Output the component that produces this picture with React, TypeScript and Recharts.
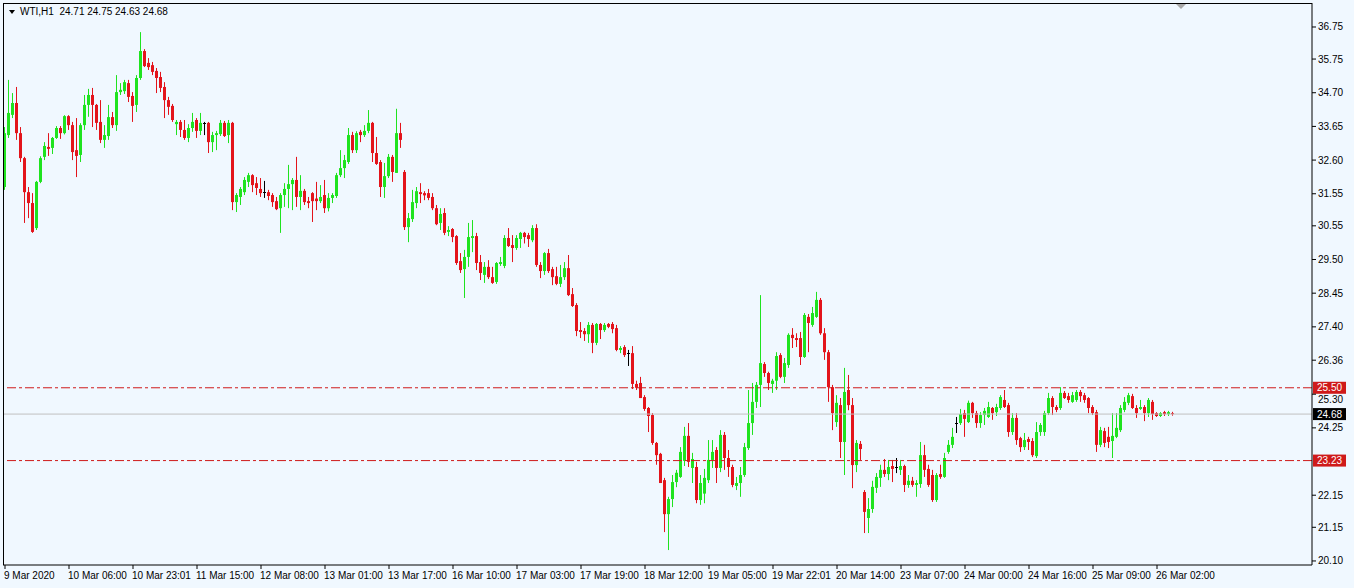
import { ComposedChart, Bar, XAxis, YAxis, ReferenceLine } from "recharts";

// WTI H1 candles, 9 Mar 2020 -> 26 Mar 2020
const opens = [
  31.76, 33.38, 34.01, 34.38, 33.44, 32.66, 31.6, 31.26, 30.48, 31.92, 32.7, 33.01, 32.98, 33.29, 33.6, 33.44,
  33.97, 33.69, 32.91, 32.76, 33.69, 34.32, 34.63, 34.32, 33.79, 33.23, 33.35, 33.94, 33.69, 34.72, 34.75, 35.0,
  34.6, 34.32, 35.16, 36.0, 35.63, 35.56, 35.38, 35.19, 34.88, 34.47, 34.29, 33.72, 33.79, 33.54, 33.29, 33.6,
  33.85, 33.51, 33.76, 33.76, 33.16, 33.38, 33.41, 33.76, 33.38, 33.76, 31.29, 31.45, 31.6, 31.92, 32.13, 31.88,
  31.7, 31.6, 31.6, 31.51, 31.32, 31.1, 31.51, 31.7, 31.85, 31.98, 31.45, 31.64, 31.32, 31.57, 31.4, 31.32,
  31.51, 31.1, 31.42, 31.48, 32.13, 32.35, 32.54, 33.38, 32.91, 33.48, 33.38, 33.51, 33.76, 32.82, 32.54, 31.76,
  32.1, 32.7, 32.2, 33.44, 32.23, 30.51, 30.76, 31.26, 31.6, 31.57, 31.57, 31.45, 31.1, 30.64, 30.95, 30.36,
  30.45, 30.23, 29.45, 29.2, 29.58, 30.17, 30.23, 29.42, 29.02, 29.27, 28.95, 28.8, 29.36, 29.3, 30.17, 29.95,
  29.86, 30.14, 30.33, 30.26, 30.1, 30.48, 29.33, 29.14, 29.7, 29.2, 28.98, 28.74, 28.95, 29.23, 28.42, 28.08,
  27.3, 27.27, 27.17, 27.46, 26.9, 27.49, 27.3, 27.49, 27.49, 27.36, 26.68, 26.77, 26.58, 26.58, 25.62, 25.65,
  25.21, 24.87, 24.65, 23.78, 23.44, 22.62, 21.56, 22.03, 22.56, 22.72, 23.22, 24.0, 23.0, 23.03, 22.0, 22.2,
  22.62, 23.25, 23.56, 23.0, 24.03, 23.31, 23.03, 22.44, 22.53, 22.78, 23.62, 24.4, 25.06, 25.59, 26.24, 25.96,
  25.62, 25.72, 26.52, 25.84, 26.21, 27.15, 27.05, 27.05, 26.46, 27.71, 27.46, 27.71, 28.24, 27.2, 26.61, 25.52,
  24.43, 24.96, 23.81, 25.43, 24.96, 23.09, 23.75, 22.25, 21.44, 21.72, 22.38, 22.69, 22.94, 22.81, 23.06, 23.03,
  22.94, 23.06, 22.47, 22.6, 22.47, 22.5, 23.4, 22.97, 22.78, 22.0, 22.81, 22.72, 23.5, 23.72, 24.4, 24.4,
  24.71, 24.43, 25.03, 24.71, 24.4, 24.65, 24.59, 24.87, 24.74, 24.87, 25.12, 24.96, 24.12, 24.56, 23.93, 23.65,
  23.9, 23.84, 23.37, 24.12, 24.12, 24.71, 25.18, 24.9, 24.87, 25.34, 25.24, 25.06, 25.12, 25.37, 25.27, 25.18,
  24.9, 24.74, 23.72, 24.15, 23.97, 23.84, 23.97, 24.18, 24.81, 25.03, 25.24, 24.87, 24.84, 24.9, 24.71, 25.06,
  24.71, 24.62, 24.74, 24.68, 24.71,
];
const highs = [
  33.63, 35.1, 34.69, 34.88, 33.63, 32.7, 31.76, 31.57, 31.95, 32.72, 33.16, 33.44, 33.32, 33.66, 33.66, 34.0,
  34.0, 33.79, 33.91, 33.75, 34.63, 34.82, 34.85, 34.35, 34.47, 33.69, 34.32, 34.1, 35.25, 35.0, 35.1, 35.1,
  34.72, 35.25, 36.59, 36.06, 35.78, 35.66, 35.47, 35.35, 35.03, 34.57, 34.35, 33.85, 33.85, 33.85, 33.72, 34.07,
  33.91, 34.07, 33.79, 33.79, 33.48, 33.51, 33.85, 33.82, 33.85, 33.79, 31.57, 31.76, 32.07, 32.2, 32.16, 32.07,
  32.04, 31.95, 31.67, 31.57, 31.45, 31.57, 31.88, 32.45, 32.04, 32.7, 32.13, 31.7, 31.45, 31.6, 31.92, 31.82,
  31.98, 31.57, 31.57, 32.2, 32.91, 32.76, 33.6, 33.48, 33.5, 33.54, 33.69, 34.16, 33.79, 33.32, 32.6, 32.51,
  32.79, 32.76, 34.2, 33.76, 32.29, 30.95, 31.67, 31.76, 31.88, 31.63, 31.7, 31.57, 31.2, 31.1, 31.1, 30.54,
  30.48, 30.26, 29.7, 29.8, 30.64, 30.73, 30.33, 29.64, 29.42, 29.48, 29.27, 29.42, 29.58, 30.26, 30.48, 30.26,
  30.26, 30.36, 30.36, 30.33, 30.57, 30.6, 29.42, 29.73, 29.83, 29.27, 29.27, 29.33, 29.42, 29.64, 28.61, 28.14,
  27.55, 27.36, 27.55, 27.52, 27.52, 27.52, 27.52, 27.52, 27.55, 27.46, 26.8, 26.83, 26.68, 26.8, 25.72, 25.84,
  25.27, 24.9, 24.71, 23.81, 23.47, 22.69, 22.1, 22.78, 22.94, 23.65, 24.28, 24.4, 23.47, 23.19, 22.78, 22.97,
  23.87, 23.87, 23.65, 24.18, 24.12, 23.56, 23.1, 22.72, 23.03, 23.78, 25.43, 25.65, 25.68, 28.39, 26.3, 26.0,
  25.78, 26.61, 26.58, 26.43, 27.2, 27.36, 27.2, 27.24, 27.83, 27.8, 28.02, 28.49, 28.3, 27.36, 26.68, 25.59,
  25.27, 25.18, 26.12, 25.9, 25.18, 23.87, 23.84, 22.31, 22.06, 22.6, 22.84, 23.1, 23.28, 23.25, 23.25, 23.31,
  23.25, 23.1, 22.78, 22.72, 22.62, 23.81, 23.72, 23.1, 22.94, 22.84, 23.1, 23.47, 23.87, 24.25, 24.59, 24.84,
  24.81, 25.1, 25.06, 24.78, 24.74, 24.87, 25.06, 24.9, 25.0, 25.27, 25.43, 25.03, 24.71, 24.71, 23.97, 24.09,
  23.97, 23.93, 24.43, 24.4, 24.78, 25.34, 25.24, 24.96, 25.52, 25.4, 25.34, 25.37, 25.43, 25.43, 25.34, 25.21,
  24.96, 24.81, 24.28, 24.25, 24.28, 24.71, 24.71, 24.96, 25.21, 25.34, 25.31, 24.96, 25.12, 24.96, 25.18, 25.12,
  24.74, 24.74, 24.78, 24.78, 24.75,
];
const lows = [
  31.67, 33.29, 33.91, 33.23, 32.54, 30.64, 30.79, 30.33, 30.42, 31.88, 32.6, 32.73, 32.79, 33.26, 33.26, 33.4,
  33.54, 32.6, 32.07, 32.54, 33.54, 33.95, 33.63, 33.54, 33.13, 32.98, 33.23, 33.6, 33.51, 34.63, 34.66, 34.41,
  33.79, 34.1, 35.1, 35.5, 35.41, 35.25, 34.69, 34.72, 33.91, 34.01, 33.79, 33.38, 33.32, 33.23, 33.16, 33.48,
  33.29, 33.38, 33.38, 32.82, 32.85, 32.91, 33.35, 33.32, 33.13, 31.04, 30.98, 31.2, 31.51, 31.76, 31.6, 31.51,
  31.45, 31.42, 31.35, 31.14, 31.04, 30.33, 31.14, 31.1, 31.04, 31.14, 31.04, 31.2, 31.1, 30.67, 31.04, 31.26,
  30.95, 31.0, 31.26, 31.42, 32.07, 32.04, 32.48, 32.82, 32.82, 33.16, 33.32, 33.44, 32.54, 32.45, 31.45, 31.42,
  32.04, 31.92, 32.2, 32.98, 30.42, 30.04, 30.67, 31.1, 31.26, 31.35, 31.35, 31.04, 30.57, 30.42, 30.26, 30.23,
  30.04, 29.33, 29.08, 28.3, 29.27, 29.73, 29.17, 28.86, 28.77, 28.89, 28.74, 28.74, 29.3, 29.23, 29.89, 29.42,
  29.8, 29.86, 30.0, 29.89, 30.04, 29.27, 28.92, 29.02, 29.08, 28.7, 28.7, 28.64, 28.86, 28.36, 28.02, 27.11,
  27.05, 26.96, 26.9, 26.58, 26.83, 27.02, 27.24, 27.36, 27.2, 26.64, 26.58, 26.46, 26.18, 25.46, 25.43, 25.18,
  24.78, 24.12, 23.72, 23.1, 22.53, 21.0, 20.44, 21.78, 22.4, 22.69, 23.06, 23.03, 22.53, 21.9, 21.85, 21.9,
  22.53, 23.0, 22.53, 22.87, 22.94, 22.72, 22.4, 22.31, 22.1, 22.72, 23.56, 24.03, 24.87, 24.9, 25.84, 25.43,
  25.34, 25.43, 25.8, 25.65, 26.12, 26.74, 26.77, 26.21, 26.43, 26.61, 27.4, 27.68, 27.15, 26.37, 25.06, 24.18,
  24.28, 23.31, 22.78, 24.8, 22.37, 22.87, 23.25, 20.97, 20.97, 21.6, 22.22, 22.41, 22.72, 22.62, 22.56, 22.84,
  22.78, 22.25, 22.38, 22.41, 22.1, 22.38, 22.72, 22.41, 21.94, 21.94, 22.66, 22.69, 23.44, 23.62, 24.09, 24.34,
  23.97, 24.4, 24.56, 24.25, 24.25, 24.34, 24.56, 24.5, 24.62, 24.81, 24.87, 23.97, 24.03, 23.72, 23.5, 23.56,
  23.56, 23.34, 23.31, 24.0, 24.0, 24.65, 24.65, 24.74, 24.81, 25.15, 25.03, 25.03, 25.06, 25.06, 25.03, 24.71,
  24.65, 23.5, 23.65, 23.65, 23.62, 23.31, 23.93, 24.12, 24.74, 24.96, 24.84, 24.56, 24.81, 24.46, 24.59, 24.5,
  24.59, 24.59, 24.62, 24.62, 24.63,
];
const closes = [
  33.44, 34.07, 34.38, 33.44, 32.66, 31.6, 31.26, 30.36, 31.92, 32.66, 33.04, 32.95, 33.29, 33.6, 33.44, 33.97,
  33.69, 32.85, 32.73, 33.69, 34.32, 34.63, 34.32, 33.76, 33.23, 33.38, 33.94, 33.69, 34.72, 34.79, 35.03, 34.57,
  34.29, 35.16, 36.0, 35.53, 35.5, 35.35, 35.16, 34.85, 34.47, 34.26, 33.85, 33.79, 33.54, 33.29, 33.6, 33.79,
  33.51, 33.76, 33.76, 33.16, 33.38, 33.44, 33.76, 33.35, 33.76, 31.29, 31.51, 31.7, 31.98, 32.13, 31.82, 31.73,
  31.57, 31.6, 31.48, 31.29, 31.07, 31.51, 31.7, 31.85, 31.98, 31.45, 31.64, 31.29, 31.26, 31.32, 31.32, 31.45,
  31.1, 31.42, 31.51, 32.13, 32.35, 32.6, 33.38, 32.91, 33.44, 33.38, 33.51, 33.76, 32.82, 32.48, 31.76, 32.1,
  32.7, 32.23, 33.44, 33.23, 30.51, 30.79, 31.29, 31.63, 31.54, 31.5, 31.42, 31.1, 30.6, 30.92, 30.33, 30.42,
  30.2, 29.39, 29.17, 29.58, 30.2, 30.23, 29.39, 29.08, 29.27, 28.95, 28.77, 29.39, 29.42, 30.17, 29.92, 29.86,
  30.17, 30.33, 30.2, 30.14, 30.48, 29.33, 29.14, 29.7, 29.14, 28.95, 28.74, 28.95, 29.23, 28.39, 28.05, 27.27,
  27.24, 27.17, 27.46, 26.9, 27.49, 27.3, 27.46, 27.4, 27.33, 26.68, 26.74, 26.52, 26.58, 25.62, 25.5, 25.18,
  24.84, 24.62, 23.78, 23.4, 22.53, 21.56, 22.03, 22.56, 22.85, 23.5, 24.0, 23.19, 23.28, 22.0, 22.53, 22.69,
  23.25, 23.5, 23.0, 24.03, 23.31, 23.03, 22.47, 22.53, 22.78, 23.65, 24.4, 25.06, 25.59, 26.27, 25.96, 25.65,
  25.72, 26.49, 25.84, 26.27, 27.15, 27.05, 26.99, 26.46, 27.77, 27.52, 27.83, 28.24, 27.2, 26.61, 25.52, 24.71,
  25.03, 23.81, 25.37, 24.96, 23.09, 23.78, 23.59, 21.63, 21.72, 22.41, 22.72, 22.94, 22.81, 23.03, 22.97, 23.03,
  23.06, 22.47, 22.6, 22.47, 22.53, 23.4, 22.94, 22.47, 22.0, 22.78, 22.72, 23.31, 23.72, 23.97, 24.4, 24.68,
  24.53, 25.03, 24.71, 24.4, 24.65, 24.78, 24.9, 24.71, 24.9, 25.21, 24.9, 24.12, 24.56, 23.87, 23.65, 23.87,
  23.81, 23.4, 24.12, 24.34, 24.71, 25.18, 24.9, 24.81, 25.34, 25.18, 25.12, 25.27, 25.37, 25.24, 25.12, 24.87,
  24.71, 23.72, 24.18, 23.78, 23.81, 24.0, 24.25, 24.87, 25.06, 25.27, 24.87, 24.71, 24.9, 24.71, 25.12, 24.68,
  24.62, 24.71, 24.68, 24.74, 24.68,
];

// one date label every 16 bars
const timeLabels = [
  "9 Mar 2020", "10 Mar 06:00", "10 Mar 23:01", "11 Mar 15:00", "12 Mar 08:00", "13 Mar 01:00", "13 Mar 17:00",
  "16 Mar 10:00", "17 Mar 03:00", "17 Mar 19:00", "18 Mar 12:00", "19 Mar 05:00", "19 Mar 22:01", "20 Mar 14:00",
  "23 Mar 07:00", "24 Mar 00:00", "24 Mar 16:00", "25 Mar 09:00", "26 Mar 02:00",
];
const priceTicks = [36.75, 35.75, 34.7, 33.65, 32.6, 31.55, 30.55, 29.5, 28.45, 27.4, 26.36, 25.3, 24.25, 22.15, 21.15, 20.1];
const levels = [25.5, 23.23];
const lastPrice = 24.68;

const FONT = "'Liberation Sans', Arial, sans-serif";
const UP = "#1fe31f";
const DOWN = "#e3141b";
const LEVEL = "#cf1a1a";

const data = closes.map((c, i) => ({ i, o: opens[i], h: highs[i], l: lows[i], c, range: [lows[i], highs[i]] }));
const tickIdx = timeLabels.map((_, k) => k * 16);

function Candle(props: any) {
  const { x, y, width, height, payload } = props;
  if (!payload) return null;
  const { o, h, l, c } = payload;
  const top = Math.min(y, y + height);
  const span = Math.abs(height);
  const ppu = h > l ? span / (h - l) : 0;
  const cx = Math.floor(x + width / 2);
  const bTop = top + (h - Math.max(o, c)) * ppu;
  const bBot = top + (h - Math.min(o, c)) * ppu;
  const color = c > o ? UP : c < o ? DOWN : "#000";
  return (
    <g>
      <line x1={cx + 0.5} x2={cx + 0.5} y1={top} y2={top + span} stroke={color} />
      {o === c ? (
        <line x1={cx - 1} x2={cx + 2} y1={Math.round(bTop) + 0.5} y2={Math.round(bTop) + 0.5} stroke={color} />
      ) : (
        <rect x={cx - 1} y={bTop} width={3} height={Math.max(1, bBot - bTop)} fill={color} />
      )}
    </g>
  );
}

function TimeTick({ x, y, payload }: any) {
  return (
    <text x={x - 1} y={y + 8} textAnchor="start" fontSize={10} fontFamily={FONT} fill="#000">
      {timeLabels[payload.value / 16]}
    </text>
  );
}

function PriceTick({ x, y, payload }: any) {
  // the 25.30 label sits right under the 25.50 tag; push it down a little
  const off = payload.value === 25.3 ? 5 : 0;
  return (
    <text x={x} y={y + off} dy="0.35em" textAnchor="start" fontSize={10} fontFamily={FONT} fill="#000">
      {payload.value.toFixed(2)}
    </text>
  );
}

function PriceTag({ viewBox, text, bg }: any) {
  if (!viewBox) return null;
  const { x, y, width } = viewBox;
  return (
    <g>
      <rect x={x + width + 1} y={y - 6} width={33} height={12} fill={bg} />
      <text x={x + width + 5} y={y} dy="0.35em" fontSize={10} fontFamily={FONT} fill="#fff">{text}</text>
    </g>
  );
}

export default function App() {
  return (
    <div style={{ position: "absolute", left: 0, top: 0, width: 1354, height: 588, background: "#f0f8ff", overflow: "hidden" }}>
      <ComposedChart width={1354} height={588} data={data} margin={{ top: 3, right: 0, bottom: 0, left: 3 }}>
        <XAxis
          dataKey="i" type="number" domain={[-0.5, 326.75]} allowDataOverflow
          ticks={tickIdx} interval={0} height={23} tickSize={4}
          axisLine={{ stroke: "#000" }} tickLine={{ stroke: "#000" }} tick={<TimeTick />}
        />
        <YAxis
          orientation="right" domain={[19.974, 37.498]} allowDataOverflow ticks={priceTicks} interval={0}
          width={42} tickSize={4} axisLine={{ stroke: "#000" }} tickLine={{ stroke: "#000" }}
          tick={<PriceTick />}
        />
        <ReferenceLine y={lastPrice} stroke="#c0c0c0" label={<PriceTag text={lastPrice.toFixed(2)} bg="#000" />} />
        {levels.map((v) => (
          <ReferenceLine key={v} y={v} stroke={LEVEL} strokeDasharray="9 3 3 3" label={<PriceTag text={v.toFixed(2)} bg={LEVEL} />} />
        ))}
        <Bar dataKey="range" barSize={3} isAnimationActive={false} shape={<Candle />} />
      </ComposedChart>
      <div style={{ position: "absolute", left: 3, top: 3, width: 1309, height: 562, borderLeft: "1px solid #000", borderTop: "1px solid #000", boxSizing: "border-box", pointerEvents: "none" }} />
      <svg style={{ position: "absolute", left: 0, top: 0 }} width={1354} height={20}>
        <polygon points="9,10 15,10 12,14" fill="#000" />
        <polygon points="1176,4 1186,4 1181,9" fill="#a8a8a8" />
      </svg>
      <div style={{ position: "absolute", left: 20, top: 6, fontSize: 10, fontFamily: FONT, color: "#000", whiteSpace: "pre" }}>
        {"WTI,H1  24.71 24.75 24.63 24.68"}
      </div>
    </div>
  );
}
